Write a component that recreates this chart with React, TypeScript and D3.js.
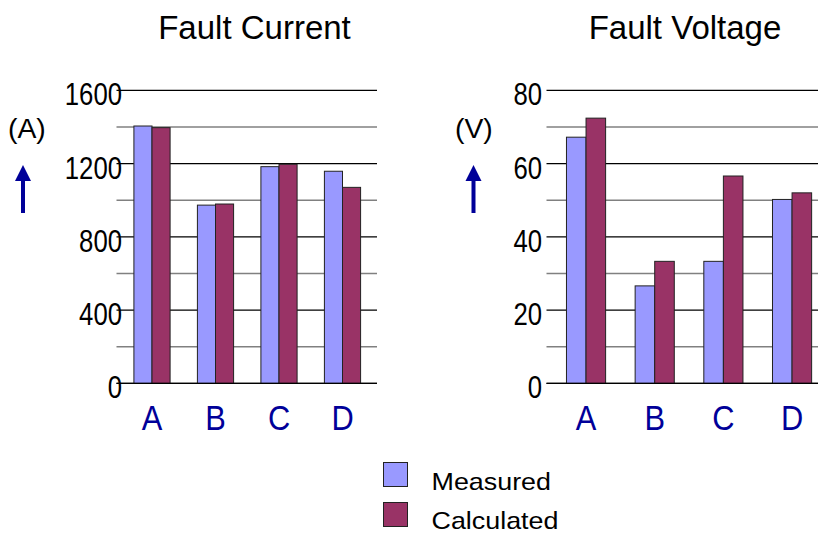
import React from 'react';
import * as d3 from 'd3';

// values
const categories = ['A', 'B', 'C', 'D'];
const seriesNames = ['Measured', 'Calculated'];
const currentMeasured = [1405, 973, 1183, 1158];
const currentCalculated = [1396, 979, 1196, 1070];
const voltageMeasured = [67.2, 26.6, 33.3, 50.2];
const voltageCalculated = [72.4, 33.3, 56.6, 52.0];
const currentTicks = [0, 400, 800, 1200, 1600];
const currentMinor = [200, 600, 1000, 1400];
const voltageTicks = [0, 20, 40, 60, 80];
const voltageMinor = [10, 30, 50, 70];

const colors = ['#9999FF', '#993366'];
const blue = '#000099';
const font = '"Liberation Sans", Arial, sans-serif';

function Panel(props) {
    const { title, titleX, unit, unitX, arrowX, measured, calculated, max,
        ticks, minor, range, gridX, labelX } = props;

    let y = d3.scaleLinear().domain([0, max]).range([383.3, 90.3]);

    let x = d3.scaleBand()
        .domain(categories)
        .range(range)
        .paddingInner(0.43)
        .paddingOuter(0.215);

    let x1 = d3.scaleBand()
        .domain(seriesNames)
        .range([0, x.bandwidth()]);

    let values = [measured, calculated];

    return (
        <g>
            <text x={titleX} y={39} fontSize={33} textAnchor="middle" fontFamily={font}>{title}</text>
            <text transform={`translate(${unitX},138) scale(1.05,1)`} fontSize={27} fontFamily={font}>{unit}</text>
            <polygon points={`${arrowX - 8},181 ${arrowX},165 ${arrowX + 8},181`} fill={blue} />
            <rect x={arrowX - 2} y={178} width={4} height={35} fill={blue} />

            {minor.map(t => (
                <line key={'m' + t} x1={gridX[0]} x2={gridX[1]} y1={y(t)} y2={y(t)}
                    stroke="#808080" strokeWidth={1.4} />
            ))}
            {ticks.map(t => (
                <line key={'g' + t} x1={gridX[0]} x2={gridX[1]} y1={y(t)} y2={y(t)}
                    stroke="#000" strokeWidth={1.3} />
            ))}
            {ticks.map(t => (
                <text key={'t' + t} transform={`translate(${labelX},${y(t) + 15}) scale(0.83,1)`}
                    fontSize={31} textAnchor="end" fontFamily={font}>{t}</text>
            ))}

            {categories.map((c, i) => (
                <g key={c} transform={`translate(${x(c)},0)`}>
                    {seriesNames.map((s, j) => (
                        <rect key={s} x={x1(s)} y={y(values[j][i])}
                            width={x1.bandwidth()} height={y(0) - y(values[j][i])}
                            fill={colors[j]} stroke="#222" strokeWidth={1} />
                    ))}
                </g>
            ))}
            <line x1={gridX[0]} x2={gridX[1]} y1={y(0)} y2={y(0)} stroke="#000" strokeWidth={1.3} />

            {categories.map(c => (
                <text key={'c' + c}
                    transform={`translate(${x(c) + x.bandwidth() / 2},429.5) scale(0.88,1)`}
                    fontSize={35} textAnchor="middle" fill={blue} fontFamily={font}>{c}</text>
            ))}
        </g>
    );
}

export default function App() {
    return (
        <svg width={818} height={533} style={{ position: 'absolute', left: 0, top: 0 }}>
            <rect width={818} height={533} fill="#fff" />
            <Panel title="Fault Current" titleX={254.5} unit="(A)" unitX={8} arrowX={23}
                measured={currentMeasured} calculated={currentCalculated} max={1600}
                ticks={currentTicks} minor={currentMinor}
                range={[120.25, 374.25]} gridX={[116.5, 377]} labelX={122} />
            <Panel title="Fault Voltage" titleX={685} unit="(V)" unitX={455} arrowX={473.5}
                measured={voltageMeasured} calculated={voltageCalculated} max={80}
                ticks={voltageTicks} minor={voltageMinor}
                range={[551.7, 826.4]} gridX={[546.5, 818]} labelX={542} />

            {seriesNames.map((s, i) => (
                <g key={s}>
                    <rect x={383.5} y={462.5 + i * 40} width={24} height={24}
                        fill={colors[i]} stroke="#222" strokeWidth={1} />
                    <text transform={`translate(431.5,${490 + i * 38.5}) scale(1.12,1)`}
                        fontSize={24} fontFamily={font}>{s}</text>
                </g>
            ))}
        </svg>
    );
}
